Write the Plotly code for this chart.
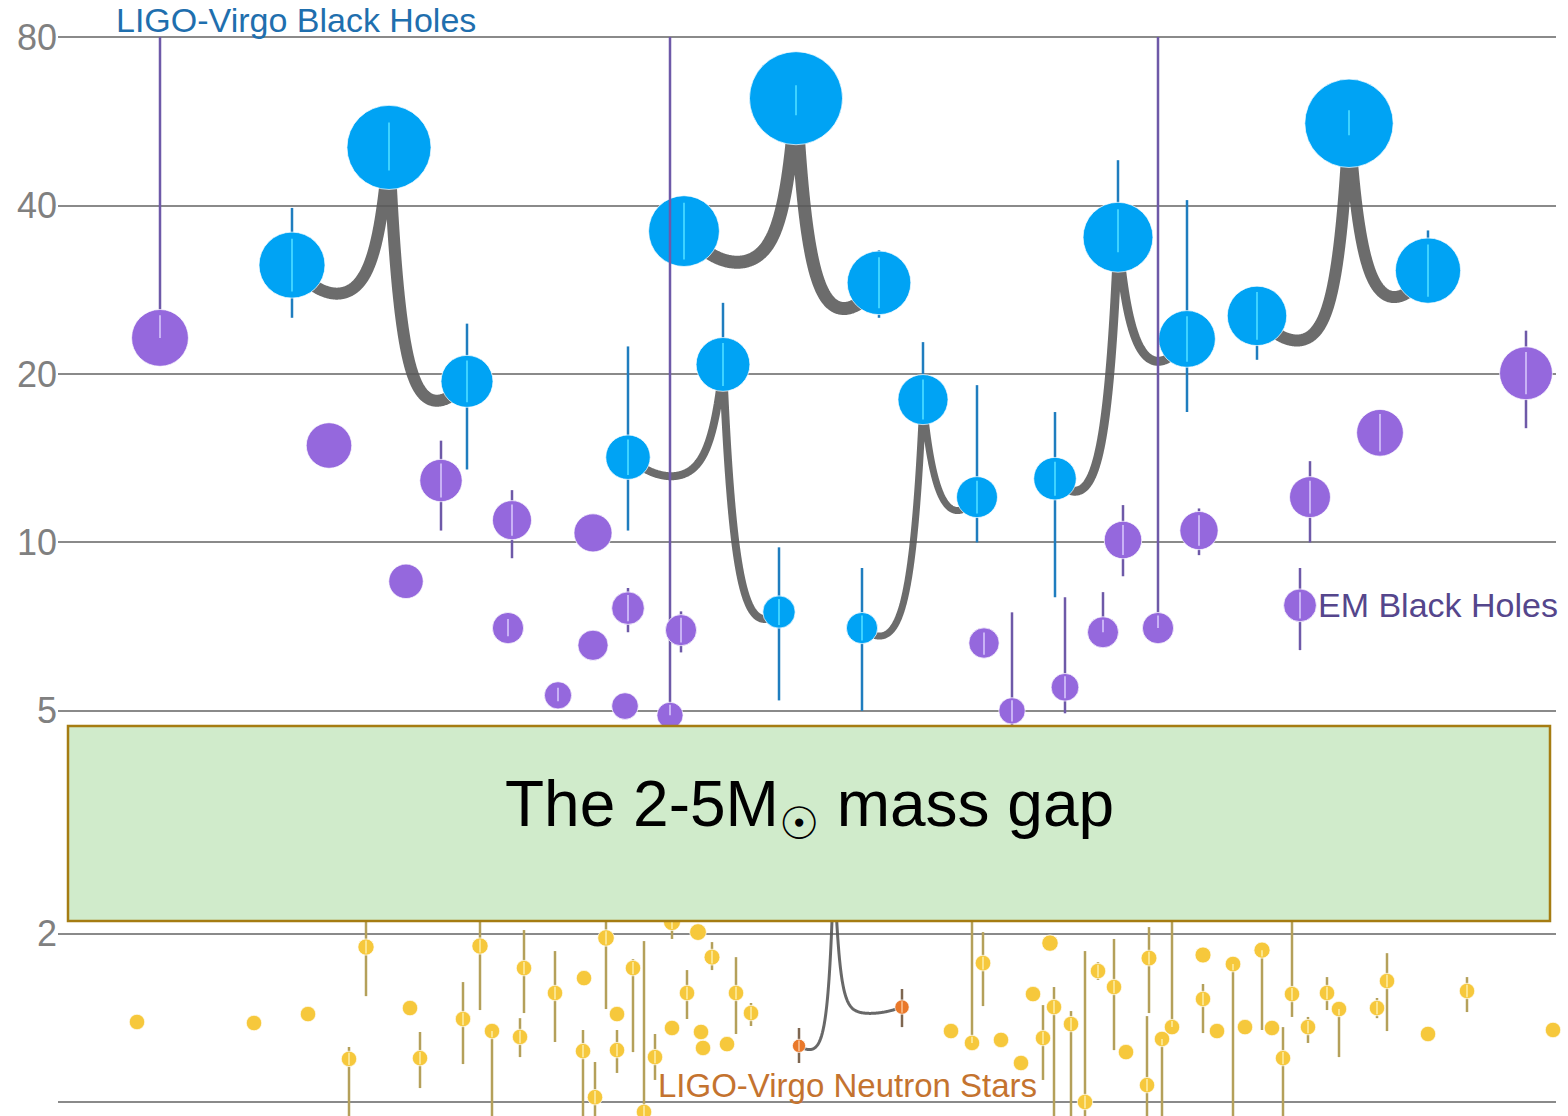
import numpy as np
import plotly.graph_objects as go

# ---------------- DATA (solar masses) ----------------
# LIGO-Virgo binary black-hole mergers: primary, secondary, remnant
bbh_m1    = [31.3, 14.2, 36.0, 7.03, 13.0, 25.4]
bbh_m1_hi = [39.6, 22.4, 41.2, 9.0, 17.1, 28.2]
bbh_m1_lo = [25.2, 10.5, 31.9, 5.0, 7.98, 21.2]
bbh_m2    = [19.4, 7.51, 29.1, 12.05, 23.1, 30.6]
bbh_m2_hi = [24.6, 9.8, 33.3, 19.1, 40.9, 36.1]
bbh_m2_lo = [13.5, 5.22, 25.2, 10.0, 17.1, 27.1]
bbh_mf    = [50.8, 20.8, 62.2, 18.0, 35.1, 56.1]
bbh_mf_hi = [56.3, 26.8, 65.6, 22.8, 48.2, 59.2]
bbh_mf_lo = [46.2, 19.0, 58.0, 16.5, 33.0, 53.4]

# EM-observed black holes (upper limits of 80 are open-ended)
em_m  = [23.2, 14.9, 8.52, 12.9, 10.96, 7.03, 10.4, 6.55, 5.33, 5.10, 7.63, 6.97,
         4.91, 6.61, 5.0, 5.51, 6.91, 10.1, 7.03, 10.5, 12.05, 15.7, 20.06, 7.72]
em_hi = [80, 14.9, 8.52, 15.2, 12.4, 7.3, 10.4, 6.55, 5.5, 5.10, 8.29, 7.53,
         80, 6.9, 7.5, 7.98, 8.15, 11.66, 80, 11.5, 13.97, 17.0, 23.9, 9.0]
em_lo = [23.2, 14.9, 8.52, 10.5, 9.37, 6.8, 10.4, 6.55, 5.2, 5.10, 6.91, 6.36,
         4.91, 6.3, 4.6, 4.95, 6.91, 8.7, 7.03, 9.49, 10.0, 14.5, 16.0, 6.42]

# LIGO-Virgo binary neutron-star merger: primary, secondary, remnant
bns_m  = [1.26, 1.478, 2.74]
bns_hi = [1.356, 1.592, 2.74]
bns_lo = [1.174, 1.361, 2.74]

# Neutron stars (EM)
ns_m  = [1.390, 1.384, 1.436, 1.194, 1.892, 1.472, 1.198, 1.407, 1.900, 1.339,
         1.307, 1.735, 1.566, 1.665, 1.233, 1.02, 1.964, 1.436, 1.238, 1.735,
         0.96, 1.203, 2.097, 2.012, 1.815, 1.566, 1.356, 1.334, 1.249, 1.269,
         1.566, 1.442, 1.339, 1.275, 1.771, 1.291, 1.174, 1.559, 1.301, 1.923,
         1.478, 1.378, 1.0, 1.714, 1.605, 1.228, 1.808, 1.072, 1.361, 1.296,
         1.831, 1.528, 1.339, 1.764, 1.361, 1.868, 1.356, 1.198, 1.559, 1.361,
         1.566, 1.466, 1.472, 1.645, 1.323, 1.579, 1.345]
ns_hi = [1.390, 1.384, 1.436, 1.254, 2.3, 1.472, 1.334, 1.638, 2.3, 1.339,
         1.412, 2.029, 1.861, 1.665, 1.345, 1.179, 2.3, 1.436, 1.345, 1.80,
         1.939, 1.323, 2.3, 2.012, 1.931, 1.721, 1.356, 1.334, 1.249, 1.269,
         1.815, 1.503, 1.339, 2.3, 2.012, 1.291, 1.174, 1.559, 1.490, 1.923,
         1.605, 1.454, 1.861, 1.778, 1.956, 1.228, 2.054, 1.424, 2.3, 1.296,
         1.831, 1.625, 1.339, 1.764, 1.361, 1.868, 1.356, 1.361, 2.3, 1.419,
         1.672, 1.466, 1.534, 1.845, 1.323, 1.672, 1.345]
ns_lo = [1.390, 1.384, 1.436, 0.9, 1.546, 1.472, 1.059, 1.169, 1.460, 0.9,
         1.203, 1.442, 1.280, 1.665, 0.9, 0.9, 1.466, 1.436, 1.127, 1.228,
         0.9, 1.095, 1.956, 2.012, 1.721, 1.407, 1.356, 1.334, 1.249, 1.269,
         1.323, 1.367, 1.339, 1.275, 1.484, 1.291, 1.174, 1.559, 1.095, 1.923,
         0.9, 0.9, 0.9, 1.652, 1.238, 1.228, 1.442, 0.9, 1.361, 0.9,
         1.831, 1.328, 1.339, 0.9, 1.361, 1.345, 1.356, 0.9, 1.419, 1.275,
         1.460, 1.203, 1.412, 1.339, 1.323, 1.448, 1.345]

y_ticks = [1, 2, 5, 10, 20, 40, 80]
gap_lo, gap_hi = 2.105, 4.70

# ---------------- LAYOUT SLOTS (horizontal placement, no physical meaning) ----------------
bbh_x1 = [292, 628, 684, 862, 1055, 1257]
bbh_x2 = [467, 779, 879, 977, 1187, 1428]
bbh_xf = [389, 723, 796, 923, 1118, 1349]
bbh_lw = [12, 8, 13, 7, 9, 12]
em_x = [160, 329, 406, 441, 512, 508, 593, 593, 558, 625, 628, 681,
        670, 984, 1012, 1065, 1103, 1123, 1158, 1199, 1310, 1380, 1526, 1300]
bns_x = [799, 902, 834]
ns_x = [137, 254, 308, 349, 366, 410, 420, 463, 480, 492,
        520, 524, 555, 584, 583, 595, 606, 617, 617, 633,
        644, 655, 672, 698, 712, 687, 672, 701, 703, 727,
        736, 751, 951, 972, 983, 1001, 1021, 1033, 1043, 1050,
        1054, 1071, 1085, 1098, 1114, 1126, 1149, 1147, 1172, 1162,
        1203, 1203, 1217, 1233, 1245, 1262, 1272, 1283, 1292, 1308,
        1327, 1339, 1377, 1387, 1428, 1467, 1553]

W, H = 1568, 1116
ML, MR = 58, 12
YMIN, YMAX = -0.0250, 1.9693
PX_PER_DEC = H / (YMAX - YMIN)
SIZE_K = 11.8                # marker diameter (px) per sqrt(solar mass)
FONT = "Liberation Sans, Arial, sans-serif"


def diam(m, floor=0.0):
    return np.maximum(SIZE_K * np.sqrt(np.asarray(m, float)), floor)


def to_paper(m):
    return (np.log10(m) - YMIN) / (YMAX - YMIN)


def branch(xa, ma, xf, mf, w):
    L = abs(xf - xa)
    s = np.linspace(0, 1, 300)
    d = L * s ** 2.5
    xs = xf + np.sign(xa - xf) * d
    t = 1 - d / L
    frac = (np.exp(-d / w) - np.exp(-L / w)) / (1 - np.exp(-L / w))
    la, lf = np.log10(ma), np.log10(mf)
    dip = 0.9 * diam(ma) / 2 / PX_PER_DEC
    ly = la + (lf - la) * frac - dip * 4 * t * (1 - t)
    return xs[::-1], 10 ** ly[::-1]


def merger_curve(x1, m1, x2, m2, xf, mf, w):
    xa, ya = branch(x1, m1, xf, mf, w)
    xb, yb = branch(x2, m2, xf, mf, w)
    return np.concatenate([xa, xb[::-1]]), np.concatenate([ya, yb[::-1]])


def inner(m, hi, lo, dia):
    m = np.asarray(m, float)
    r = 0.8 * dia / 2 / PX_PER_DEC
    ih = np.minimum(np.asarray(hi, float), m * 10 ** r)
    il = np.maximum(np.asarray(lo, float), m * 10 ** (-r))
    return np.maximum(ih - m, 0), np.maximum(m - il, 0)


def point_traces(x, m, hi, lo, color, errcolor, innercolor, floor=0.0):
    m = np.asarray(m, float)
    hi = np.asarray(hi, float)
    lo = np.asarray(lo, float)
    dia = diam(m, floor)
    base = go.Scatter(
        x=x, y=m, mode="markers", cliponaxis=False, hoverinfo="skip",
        marker=dict(size=dia, color=color, opacity=1,
                    line=dict(width=1, color="rgba(255,255,255,0.7)")),
        error_y=dict(type="data", symmetric=False, array=hi - m, arrayminus=m - lo,
                     color=errcolor, thickness=2.5, width=0),
    )
    ih, il = inner(m, hi, lo, dia)
    over = go.Scatter(
        x=x, y=m, mode="markers", cliponaxis=False, hoverinfo="skip",
        marker=dict(size=2, color="rgba(0,0,0,0)"),
        error_y=dict(type="data", symmetric=False, array=ih, arrayminus=il,
                     color=innercolor, thickness=2, width=0),
    )
    return [base, over]


fig = go.Figure()

# merger curves
for i in range(len(bbh_m1)):
    cx, cy = merger_curve(bbh_x1[i], bbh_m1[i], bbh_x2[i], bbh_m2[i], bbh_xf[i], bbh_mf[i], 11)
    fig.add_trace(go.Scatter(x=cx, y=cy, mode="lines", hoverinfo="skip",
                             line=dict(color="rgba(88,88,88,0.88)", width=bbh_lw[i],
                                       simplify=False)))
cx, cy = merger_curve(bns_x[0], bns_m[0], bns_x[1], bns_m[1], bns_x[2], bns_m[2], 5)
fig.add_trace(go.Scatter(x=cx, y=cy, mode="lines", hoverinfo="skip",
                         line=dict(color="rgba(88,88,88,0.9)", width=3, simplify=False)))

# neutron stars
for tr in point_traces(ns_x, ns_m, ns_hi, ns_lo, "#f6c83c", "#b4a05a", "#fbe48c", floor=15.5):
    fig.add_trace(tr)
for tr in point_traces(bns_x, bns_m, bns_hi, bns_lo, "#e9782a", "#7e6650", "#f6b07a", floor=13):
    fig.add_trace(tr)

# LIGO-Virgo black holes
bx = bbh_x1 + bbh_x2 + bbh_xf
bm = bbh_m1 + bbh_m2 + bbh_mf
bh = bbh_m1_hi + bbh_m2_hi + bbh_mf_hi
bl = bbh_m1_lo + bbh_m2_lo + bbh_mf_lo
for tr in point_traces(bx, bm, bh, bl, "#00a3f4", "#1f7dbf", "#3ed2ff"):
    fig.add_trace(tr)

# EM black holes
for tr in point_traces(em_x, em_m, em_hi, em_lo, "#9568dd", "#6e59a8", "#c9b2f5"):
    fig.add_trace(tr)

# mass gap box
fig.add_shape(type="rect", xref="x", yref="paper", x0=68, x1=1550,
              y0=to_paper(gap_lo), y1=to_paper(gap_hi),
              fillcolor="#d0ebcb", line=dict(color="#a57c12", width=2.5), layer="above")

ann = [
    dict(text="The 2-5M<sub>☉</sub> mass gap", x=809, y=to_paper(3.35), xanchor="center",
         yanchor="middle", font=dict(size=64, color="#000000", family=FONT)),
    dict(text="LIGO-Virgo Black Holes", x=114, y=to_paper(85.7), xanchor="left",
         yanchor="middle", font=dict(size=34, color="#1f6fae", family=FONT)),
    dict(text="EM Black Holes", x=1316, y=to_paper(7.72), xanchor="left",
         yanchor="middle", font=dict(size=34, color="#55468c", family=FONT)),
    dict(text="LIGO-Virgo Neutron Stars", x=656, y=to_paper(1.072), xanchor="left",
         yanchor="middle", font=dict(size=33, color="#c4732f", family=FONT)),
]
for a in ann:
    fig.add_annotation(xref="x", yref="paper", showarrow=False, **a)

fig.update_layout(
    width=W, height=H, margin=dict(l=ML, r=MR, t=0, b=0),
    paper_bgcolor="white", plot_bgcolor="white", showlegend=False,
    font=dict(family=FONT),
    xaxis=dict(range=[ML, W - MR], showgrid=False, zeroline=False, showticklabels=False,
               showline=False, fixedrange=True),
    yaxis=dict(type="log", range=[YMIN, YMAX], tickvals=y_ticks,
               ticktext=[str(v) for v in y_ticks], showgrid=True, gridcolor="#8a8a8a",
               gridwidth=2, zeroline=False, showline=False, ticks="",
               tickfont=dict(size=36, color="#808080", family=FONT), fixedrange=True),
)

fig.write_html("out.html", config={"displayModeBar": False})
